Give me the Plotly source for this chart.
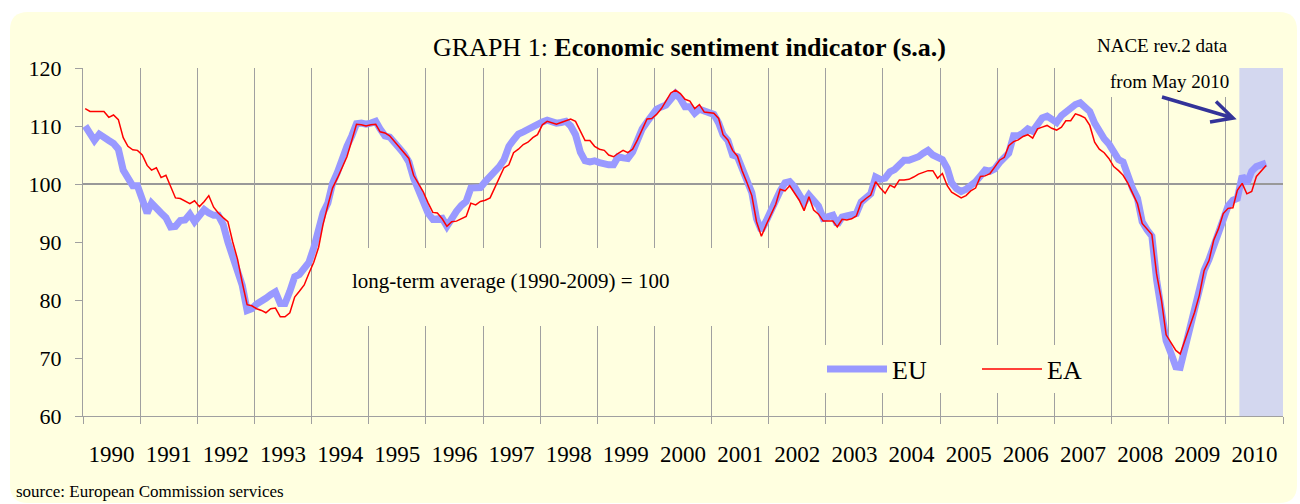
import plotly.graph_objects as go

# ---------------- data (monthly, Jan 1990 - Sep 2010) ----------------
eu_values = [
    110.0, 108.4, 107.5, 108.6, 107.9, 107.5, 107.0, 106.0, 102.4, 101.0, 99.7, 99.7,    # 1990
    97.6, 95.0, 96.7, 96.0, 95.0, 94.2, 92.6, 92.7, 93.7, 93.8, 94.8, 93.5,             # 1991
    94.6, 95.6, 95.0, 94.6, 94.6, 93.0, 90.0, 87.2, 85.0, 82.5, 78.2, 78.5,             # 1992
    79.3, 80.0, 80.3, 80.9, 81.4, 79.4, 79.4, 81.5, 84.0, 84.4, 85.5, 86.5,             # 1993
    89.0, 92.0, 95.0, 96.7, 100.1, 102.0, 104.5, 106.5, 108.3, 110.4, 110.5, 110.3,     # 1994
    110.5, 110.8, 109.5, 108.3, 108.1, 107.3, 106.2, 105.2, 103.8, 101.0, 98.8, 96.5,   # 1995
    95.0, 93.9, 94.0, 94.1, 92.7, 94.2, 95.3, 96.3, 97.0, 99.3, 99.3, 99.4,             # 1996
    100.4, 101.2, 102.1, 103.0, 104.2, 106.5, 107.6, 108.6, 109.0, 109.5, 110.0, 110.5, # 1997
    110.7, 111.0, 110.8, 110.5, 110.6, 110.8, 110.0, 108.5, 105.5, 104.0, 103.8, 104.0, # 1998
    103.7, 103.4, 103.3, 103.3, 104.7, 104.5, 104.4, 105.5, 107.6, 109.5, 110.7, 112.0, # 1999
    112.9, 113.3, 113.6, 114.6, 115.6, 114.7, 113.3, 113.3, 112.2, 112.9, 112.6, 112.5, # 2000
    112.0, 110.5, 108.5, 107.5, 105.0, 104.7, 102.5, 100.5, 98.5, 94.0, 92.0, 93.6,     # 2001
    95.5, 97.0, 98.8, 100.2, 100.4, 99.5, 98.3, 96.8, 98.1, 97.0, 96.2, 94.1,           # 2002
    94.3, 94.6, 93.0, 94.3, 94.5, 94.6, 94.9, 96.9, 97.6, 98.3, 101.2, 100.8,           # 2003
    101.0, 102.1, 102.5, 103.3, 104.1, 104.1, 104.3, 104.7, 105.3, 105.8, 105.0, 104.7, # 2004
    104.2, 102.7, 100.2, 99.2, 98.7, 99.1, 99.7, 100.4, 101.4, 102.4, 102.2, 102.6,     # 2005
    103.7, 104.7, 105.3, 108.3, 108.3, 108.8, 109.5, 109.1, 110.2, 111.4, 111.7, 111.0, # 2006
    110.6, 111.8, 112.5, 113.0, 113.7, 114.0, 113.2, 112.5, 110.5, 109.0, 107.8, 106.9, # 2007
    105.5, 104.2, 103.8, 101.3, 99.2, 97.5, 93.5, 92.1, 91.0, 83.5, 78.0, 73.0,         # 2008
    70.8, 68.5, 68.4, 71.8, 74.0, 77.5, 80.8, 85.1, 87.0, 89.5, 92.0, 94.3,             # 2009
    96.2, 97.2, 97.5, 101.4, 100.1, 102.2, 103.0, 103.3, 103.6,                         # 2010
]

ea_values = [
    113.0, 112.5, 112.5, 112.5, 112.5, 111.5, 111.9, 111.1, 108.0, 106.5, 105.9, 105.8, # 1990
    105.0, 103.2, 102.4, 102.8, 101.1, 101.5, 99.6, 97.6, 97.5, 97.0, 96.6, 97.1,       # 1991
    96.1, 97.0, 98.0, 96.0, 95.0, 94.2, 93.5, 90.0, 87.0, 83.0, 79.2, 79.0,             # 1992
    78.5, 78.2, 77.8, 78.5, 78.6, 77.1, 77.1, 77.8, 80.5, 81.5, 82.6, 84.6,             # 1993
    86.5, 89.1, 93.0, 96.3, 99.3, 101.0, 102.8, 104.7, 107.5, 110.3, 110.2, 110.0,      # 1994
    110.2, 110.3, 109.0, 108.8, 108.3, 107.3, 106.3, 105.5, 104.4, 101.5, 100.0, 98.7,  # 1995
    96.8, 95.1, 95.0, 94.0, 92.7, 93.5, 93.6, 94.0, 94.4, 96.7, 96.4, 97.0,             # 1996
    97.2, 97.6, 99.3, 101.0, 102.8, 103.3, 105.4, 106.0, 106.8, 107.2, 108.0, 108.5,    # 1997
    110.2, 110.8, 110.5, 110.3, 110.6, 110.9, 111.2, 110.8, 109.0, 107.5, 107.5, 106.5, # 1998
    106.0, 105.8, 105.0, 104.7, 105.3, 105.8, 105.4, 106.0, 107.6, 109.5, 111.2, 111.3, # 1999
    112.0, 113.0, 114.3, 115.7, 116.2, 115.6, 114.6, 114.3, 113.0, 113.7, 112.4, 112.3, # 2000
    112.2, 111.3, 108.5, 107.6, 105.8, 104.8, 102.3, 100.2, 98.0, 93.5, 91.0, 92.9,     # 2001
    94.8, 96.5, 99.1, 98.8, 99.7, 98.5, 97.2, 95.4, 97.8, 95.5, 94.8, 93.6,             # 2002
    93.6, 93.6, 92.6, 93.9, 93.8, 94.0, 94.5, 96.8, 97.5, 98.1, 100.4, 99.3,            # 2003
    98.4, 99.8, 99.4, 100.7, 100.7, 100.8, 101.2, 101.7, 102.0, 102.3, 102.3, 101.0,    # 2004
    101.8, 99.7, 98.6, 98.1, 97.6, 98.0, 98.8, 99.3, 101.3, 101.4, 101.8, 102.9,        # 2005
    104.1, 104.6, 106.6, 107.3, 107.6, 108.2, 108.5, 107.9, 109.5, 109.8, 110.1, 109.6, # 2006
    109.3, 109.8, 110.9, 110.9, 112.1, 111.8, 111.4, 110.1, 107.2, 106.0, 105.4, 104.4, # 2007
    103.0, 102.3, 101.5, 100.1, 98.3, 96.6, 93.2, 92.3, 91.3, 84.5, 80.0, 74.0,         # 2008
    72.7, 71.3, 70.7, 73.0, 75.3, 77.9, 80.8, 85.1, 86.8, 90.3, 92.3, 94.9,             # 2009
    95.8, 95.9, 98.9, 100.1, 98.3, 98.7, 101.3, 102.3, 103.2,                           # 2010
]

start_year = 1990
end_year = 2011
month_dates = [f"{start_year + i // 12}-{i % 12 + 1:02d}-15" for i in range(len(eu_values))]
y_ticks = [60, 70, 80, 90, 100, 110, 120]
long_term_average = 100
nace_start = "2010-03-28"
nace_end = "2011-01-01"

series_names = ["EU", "EA"]

# ---------------- layout helpers ----------------
W, H = 1300, 504
L, R, T, B = 83, 17, 68, 88
PW, PH = W - L - R, H - T - B
FONT = "Liberation Serif"
BG = "#FFFFE0"
GRID = "#A0A0A0"


def xp(px):
    return (px - L) / PW


def yp(py):
    return (H - B - py) / PH


fig = go.Figure()
fig.add_trace(go.Scatter(x=month_dates, y=eu_values, name=series_names[0], mode="lines",
                         line=dict(color="#9999FF", width=7)))
fig.add_trace(go.Scatter(x=month_dates, y=ea_values, name=series_names[1], mode="lines",
                         line=dict(color="#FF0000", width=1.5)))

shapes = []
# rounded yellow background panel
x0, y0, x1, y1, r = 10, 12, 1297, 503, 18
pts = [("M", x0 + r, y0), ("L", x1 - r, y0), ("Q", x1, y0, x1, y0 + r), ("L", x1, y1 - r),
       ("Q", x1, y1, x1 - r, y1), ("L", x0 + r, y1), ("Q", x0, y1, x0, y1 - r),
       ("L", x0, y0 + r), ("Q", x0, y0, x0 + r, y0)]
path = ""
for p in pts:
    cmd = p[0]
    coords = p[1:]
    seg = []
    for k in range(0, len(coords), 2):
        seg.append(f"{xp(coords[k]):.5f},{yp(coords[k + 1]):.5f}")
    path += cmd + " ".join(seg) + " "
path += "Z"
shapes.append(dict(type="path", path=path, xref="paper", yref="paper", layer="below",
                   fillcolor=BG, line=dict(width=0)))
# NACE shaded region
shapes.append(dict(type="rect", xref="x", yref="paper", x0=nace_start, x1=nace_end, y0=0, y1=1,
                   layer="below", fillcolor="#D3D7EF", line=dict(width=0)))
# long-term average line
shapes.append(dict(type="line", xref="paper", yref="y", x0=0, x1=1, y0=long_term_average,
                   y1=long_term_average, layer="below", line=dict(color="#999999", width=2)))
# text boxes hiding grid lines
for bx0, by0, bx1, by1 in [(340, 248, 800, 326), (790, 345, 1095, 393), (1085, 60, 1236, 97)]:
    shapes.append(dict(type="rect", xref="paper", yref="paper", x0=xp(bx0), x1=xp(bx1),
                       y0=yp(by1), y1=yp(by0), layer="above", fillcolor=BG, line=dict(width=0)))
# arrow
tail, tip, up, lo = (1162, 97), (1233, 118), (1216, 101.5), (1210, 122)
apath = (f"M{xp(tail[0]):.5f},{yp(tail[1]):.5f} L{xp(tip[0]):.5f},{yp(tip[1]):.5f} "
         f"M{xp(up[0]):.5f},{yp(up[1]):.5f} L{xp(tip[0]):.5f},{yp(tip[1]):.5f} "
         f"L{xp(lo[0]):.5f},{yp(lo[1]):.5f}")
shapes.append(dict(type="path", path=apath, xref="paper", yref="paper", layer="above",
                   line=dict(color="#333399", width=3.5)))

annotations = [
    dict(text="GRAPH 1: <b>Economic sentiment indicator (s.a.)</b>", x=xp(689), y=yp(47),
         font=dict(size=26, color="black", family=FONT)),
    dict(text="NACE rev.2 data", x=xp(1162), y=yp(45), font=dict(size=19, color="black", family=FONT)),
    dict(text="from May 2010", x=xp(1169), y=yp(81), font=dict(size=19, color="black", family=FONT)),
    dict(text="long-term average (1990-2009) = 100", x=xp(510), y=yp(281),
         font=dict(size=21, color="black", family=FONT)),
    dict(text="source: European Commission services", x=xp(14), y=yp(491), xanchor="left",
         font=dict(size=17, color="black", family=FONT)),
]
for a in annotations:
    a.update(xref="paper", yref="paper", showarrow=False)
    a.setdefault("xanchor", "center")
    a["yanchor"] = "middle"

fig.update_layout(
    width=W, height=H,
    margin=dict(l=L, r=R, t=T, b=B, pad=0),
    paper_bgcolor="white",
    plot_bgcolor="rgba(0,0,0,0)",
    font=dict(family=FONT, color="black"),
    shapes=shapes,
    annotations=annotations,
    showlegend=True,
    legend=dict(orientation="h", x=xp(822), y=yp(369), xanchor="left", yanchor="middle",
                bgcolor="rgba(0,0,0,0)", font=dict(size=26, family=FONT, color="black"),
                itemwidth=60, entrywidth=80, tracegroupgap=0),
    xaxis=dict(type="date", range=[f"{start_year}-01-01", f"{end_year}-01-01"],
               tick0=f"{start_year}-01-01", dtick="M12", tickformat="%Y", ticklabelmode="period",
               showgrid=True, gridcolor=GRID, gridwidth=1,
               showline=True, linecolor=GRID, linewidth=1,
               ticks="outside", ticklen=7, tickcolor=GRID, ticklabelstandoff=10,
               tickfont=dict(size=23, family=FONT, color="black"), zeroline=False, fixedrange=True),
    yaxis=dict(range=[60, 120], tickvals=y_ticks, showgrid=False, zeroline=False,
               showline=True, linecolor=GRID, linewidth=1,
               ticks="outside", ticklen=7, tickcolor=GRID, ticklabelstandoff=9,
               tickfont=dict(size=22, family=FONT, color="black"), fixedrange=True),
)

fig.write_html("out.html", config={"displayModeBar": False},
               post_script="document.body.style.margin='0px';")
